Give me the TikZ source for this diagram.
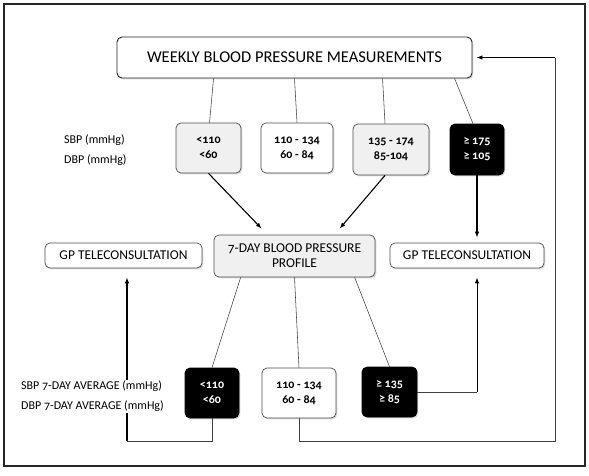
\documentclass[tikz,border=0pt]{standalone}
\usepackage{fontspec}
\setmainfont{Carlito}[Numbers=OldStyle]
\usetikzlibrary{shadows,calc,arrows.meta}
\begin{document}
\begin{tikzpicture}[x=1pt,y=-1pt,
  bx/.style={draw=black!70, line width=0.7pt, rounded corners=5pt, align=center, inner sep=0pt,
    drop shadow={shadow xshift=1.3pt,shadow yshift=-1.3pt,opacity=0.3}},
  num/.style={bx, font=\fontsize{12}{15}\selectfont\bfseries},
  lightbox/.style={fill=black!6},
  darkbox/.style={fill=black, text=white, draw=black},
  headbox/.style={bx, font=\fontsize{13.5}{15}\selectfont},
  lbl/.style={font=\fontsize{12}{20}\selectfont, align=left, anchor=west, inner sep=1pt},
  link/.style={line width=0.55pt, draw=black!75},
  arr/.style={line width=1.1pt, -{Latex[length=6pt,width=4.5pt]}}
]
\useasboundingbox (0,0) rectangle (589,475);
\draw[line width=1.2pt, draw=black!85] (4,4) rectangle (585,466);

% top
\node[bx, fill=white, draw=black!85, line width=0.9pt, minimum width=355pt, minimum height=41pt,
      font=\fontsize{16.5}{18}\selectfont] (weekly) at (294.5,57.5) {WEEKLY BLOOD PRESSURE MEASUREMENTS};

% row 1
\node[num, lightbox, minimum width=65pt, minimum height=50pt] (a) at (208.5,148) {<110\\<60};
\node[num, fill=white, minimum width=72pt, minimum height=50pt] (b) at (297,148) {110 - 134\\60 - 84};
\node[num, lightbox, minimum width=76pt, minimum height=51pt] (c) at (391,149.5) {135 - 174\\85-104};
\node[num, darkbox, minimum width=54pt, minimum height=51pt] (d) at (477,149.5) {≥ 175\\≥ 105};
\node[lbl] (l1) at (63,150) {SBP (mmHg)\\DBP (mmHg)};

% middle row
\node[headbox, fill=white, minimum width=157pt, minimum height=25pt] (gpl) at (123.5,255.5) {GP TELECONSULTATION};
\node[headbox, lightbox, minimum width=161pt, minimum height=42pt] (profile) at (294.5,256) {7-DAY BLOOD PRESSURE\\PROFILE};
\node[headbox, fill=white, minimum width=154pt, minimum height=25pt] (gpr) at (467,255.5) {GP TELECONSULTATION};

% row 2
\node[num, darkbox, minimum width=54pt, minimum height=50pt] (e) at (212,393) {<110\\<60};
\node[num, fill=white, minimum width=74pt, minimum height=50pt] (f) at (299,393) {110 - 134\\60 - 84};
\node[num, darkbox, minimum width=55pt, minimum height=50pt] (g) at (389.5,392) {≥ 135\\≥ 85};

% links from weekly
\draw[link] ([xshift=97pt]weekly.south west) -- ([xshift=1pt]a.north);
\draw[link] (weekly.south) -- (b.north);
\draw[link] ([xshift=266pt]weekly.south west) -- ([xshift=-6pt]c.north);
\draw[link] ([xshift=338pt]weekly.south west) -- ([xshift=-4pt]d.north);

% arrows to profile and gp
\draw[arr] (a.south) -- ([xshift=48pt,yshift=6pt]profile.north west);
\draw[arr] ([xshift=-6pt]c.south) -- ([xshift=126pt,yshift=6pt]profile.north west);
\draw[arr] (d.south) -- ([yshift=5pt]d.south |- gpr.north);

% links from profile
\draw[link] ([xshift=27pt]profile.south west) -- (e.north);
\draw[link] (profile.south) -- (f.north);
\draw[link] ([xshift=141pt]profile.south west) -- (g.north);

% bottom return paths
\coordinate (bl) at (127,441);
\coordinate (br) at (555,441);
\coordinate (gr) at ([xshift=10pt]gpr.south |- g.east);
\coordinate (tr) at (br |- weekly.east);
\draw[link] (e.south) |- (bl);
\draw[arr] (bl) -- ([yshift=-9pt]bl |- gpl.south);
\draw[link] (g.east) -- (gr);
\draw[arr, line width=0.9pt] (gr) -- ([yshift=-9pt]gr |- gpr.south);
\draw[link] (f.south) |- (br) -- (tr);
\draw[arr, line width=0.9pt] (tr) -- ([xshift=4pt]weekly.east);

\node[lbl, fill=white] (l2) at (20,396.5) {SBP 7-DAY AVERAGE (mmHg)\\DBP 7-DAY AVERAGE (mmHg)};
\end{tikzpicture}
\end{document}
